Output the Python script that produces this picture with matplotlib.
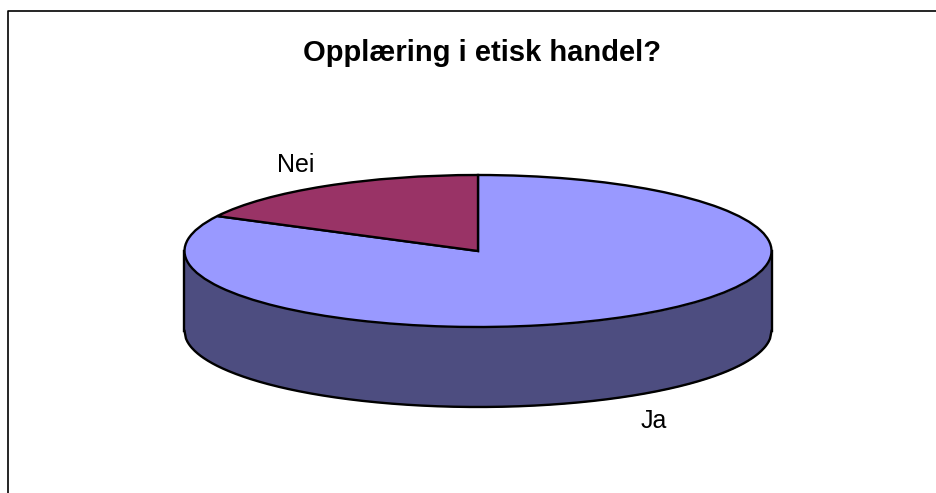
import numpy as np
import matplotlib
matplotlib.use('Agg')
import matplotlib.pyplot as plt

labels = ['Ja', 'Nei']
values = [82.6, 17.4]
colors = ['#9999FF', '#993366']
side_color = '#4D4D80'
title = 'Opplæring i etisk handel?'

W, H = 936, 493
plt.rcParams['font.family'] = ['Liberation Sans', 'DejaVu Sans']

fig = plt.figure(figsize=(W / 100, H / 100), dpi=100)
ax = fig.add_axes([0, 0, 1, 1])

# 1 enhet = halv bredde / halv hoyde av ellipsen i piksler
rx, ry = 293.5, 76
cx, cy = 478, 251
depth = 80 / ry

# kant rundt diagrammet
ax.plot([(8 - cx) / rx, (8 - cx) / rx, (W + 5 - cx) / rx],
        [-(H + 5 - cy) / ry, (cy - 11) / ry, (cy - 11) / ry],
        color='black', lw=1.2, clip_on=False)

# siden av kaken
x = np.linspace(-1, 1, 400)
top = -np.sqrt(1 - x ** 2)
ax.fill_between(x, top - depth, top, color=side_color, lw=0, zorder=1)
ax.plot(x, top - depth, color='black', lw=1.7, zorder=2)
ax.plot([-1, -1], [0, -depth], color='black', lw=1.7, zorder=2)
ax.plot([1, 1], [0, -depth], color='black', lw=1.7, zorder=2)

wedges, _ = ax.pie(values, colors=colors, startangle=90, counterclock=False,
                   radius=1, center=(0, 0), frame=True,
                   wedgeprops={'edgecolor': 'black', 'linewidth': 1.7, 'zorder': 3})
ax.set_aspect('auto')
ax.set_xlim(-cx / rx, (W - cx) / rx)
ax.set_ylim(-(H - cy) / ry, cy / ry)
ax.axis('off')

fig.text(482.5 / W, 1 - 53 / H, title, ha='center', va='center',
         fontsize=21, fontweight='bold')
fig.text(296 / W, 1 - 165 / H, labels[1], ha='center', va='center', fontsize=18)
fig.text(654 / W, 1 - 421 / H, labels[0], ha='center', va='center', fontsize=18)

fig.savefig('out.png', dpi=100, facecolor='white')
